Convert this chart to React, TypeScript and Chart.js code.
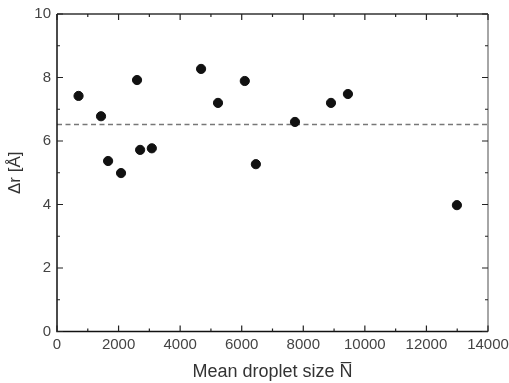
import React, { useEffect, useRef } from "react";
import { Chart, registerables } from "chart.js";

Chart.register(...registerables);

const dropletSize = [700, 1430, 1660, 2080, 2600, 2700, 3080, 4680, 5230, 6100, 6460, 7730, 8900, 9450, 12990];
const deltaR = [7.42, 6.78, 5.37, 4.99, 7.92, 5.72, 5.77, 8.27, 7.2, 7.89, 5.27, 6.6, 7.2, 7.48, 3.98];
const meanLine = 6.52;
const xRange = [0, 14000];
const yRange = [0, 10];
const xTitle = "Mean droplet size N\u0305";
const yTitle = "\u0394r [\u00C5]";

const inwardTicks = {
  id: "inwardTicks",
  afterDatasetsDraw(chart: any) {
    const { ctx, chartArea: a, scales } = chart;
    const xs = scales.x;
    const ys = scales.y;
    ctx.save();
    ctx.lineWidth = 1.5;
    ctx.strokeStyle = "#333";
    ctx.beginPath();
    ctx.moveTo(a.left, a.top);
    ctx.lineTo(a.right, a.top);
    ctx.stroke();
    ctx.strokeStyle = "#888";
    ctx.beginPath();
    ctx.moveTo(a.right, a.top);
    ctx.lineTo(a.right, a.bottom);
    ctx.stroke();
    ctx.strokeStyle = "#111";
    ctx.beginPath();
    ctx.moveTo(a.left, a.top);
    ctx.lineTo(a.left, a.bottom);
    ctx.lineTo(a.right, a.bottom);
    ctx.stroke();
    ctx.lineWidth = 1.2;
    ctx.strokeStyle = "#222";
    for (let v = xRange[0]; v <= xRange[1]; v += 1000) {
      const px = xs.getPixelForValue(v);
      const len = v % 2000 === 0 ? 6 : 3;
      ctx.beginPath();
      ctx.moveTo(px, a.bottom);
      ctx.lineTo(px, a.bottom - len);
      ctx.moveTo(px, a.top);
      ctx.lineTo(px, a.top + len);
      ctx.stroke();
    }
    for (let v = yRange[0]; v <= yRange[1]; v += 1) {
      const py = ys.getPixelForValue(v);
      const len = v % 2 === 0 ? 6 : 3;
      ctx.beginPath();
      ctx.moveTo(a.left, py);
      ctx.lineTo(a.left + len, py);
      ctx.moveTo(a.right, py);
      ctx.lineTo(a.right - len, py);
      ctx.stroke();
    }
    ctx.restore();
  },
};

export default function App() {
  const ref = useRef<HTMLCanvasElement>(null);
  useEffect(() => {
    if (!ref.current) return;
    const font = "'Liberation Sans', Arial, sans-serif";
    const chart = new Chart(ref.current, {
      type: "scatter",
      data: {
        datasets: [
          {
            data: dropletSize.map((x, i) => ({ x, y: deltaR[i] })),
            backgroundColor: "#111",
            borderColor: "#111",
            pointRadius: 4.6,
            pointHoverRadius: 4.6,
            order: 1,
          },
          {
            type: "line",
            data: [
              { x: xRange[0], y: meanLine },
              { x: xRange[1], y: meanLine },
            ],
            borderColor: "#777",
            borderWidth: 1.5,
            borderDash: [5, 3.5],
            pointRadius: 0,
            order: 2,
          } as any,
        ],
      },
      options: {
        animation: false,
        responsive: false,
        events: [],
        layout: { padding: { top: 14, right: 21, left: 0, bottom: 0 } },
        plugins: { legend: { display: false }, tooltip: { enabled: false } },
        scales: {
          x: {
            type: "linear",
            min: xRange[0],
            max: xRange[1],
            afterFit: (s: any) => {
              s.height = 51.5;
              s.paddingRight = 0;
              s.paddingLeft = 0;
            },
            ticks: {
              stepSize: 2000,
              color: "#444",
              font: { family: font, size: 15 },
              padding: 4,
              maxRotation: 0,
              callback: (v: any) => String(v),
            },
            grid: { display: false, drawTicks: false },
            border: { display: false },
            title: { display: true, text: xTitle, color: "#333", font: { family: font, size: 18 }, padding: { top: 0, bottom: 0 } },
          },
          y: {
            type: "linear",
            min: yRange[0],
            max: yRange[1],
            afterFit: (s: any) => {
              s.width = 57;
              s.paddingTop = 0;
              s.paddingBottom = 0;
            },
            ticks: {
              stepSize: 2,
              color: "#444",
              font: { family: font, size: 15 },
              padding: 6,
              callback: (v: any) => String(v),
            },
            grid: { display: false, drawTicks: false },
            border: { display: false },
            title: { display: true, text: yTitle, color: "#333", font: { family: font, size: 17 }, padding: { top: 5, bottom: 0 } },
          },
        },
      },
      plugins: [inwardTicks],
    } as any);
    return () => chart.destroy();
  }, []);
  return (
    <div style={{ position: "fixed", left: 0, top: 0, width: 509, height: 383, background: "#fff" }}>
      <canvas ref={ref} width={509} height={383} style={{ width: 509, height: 383 }} />
    </div>
  );
}
